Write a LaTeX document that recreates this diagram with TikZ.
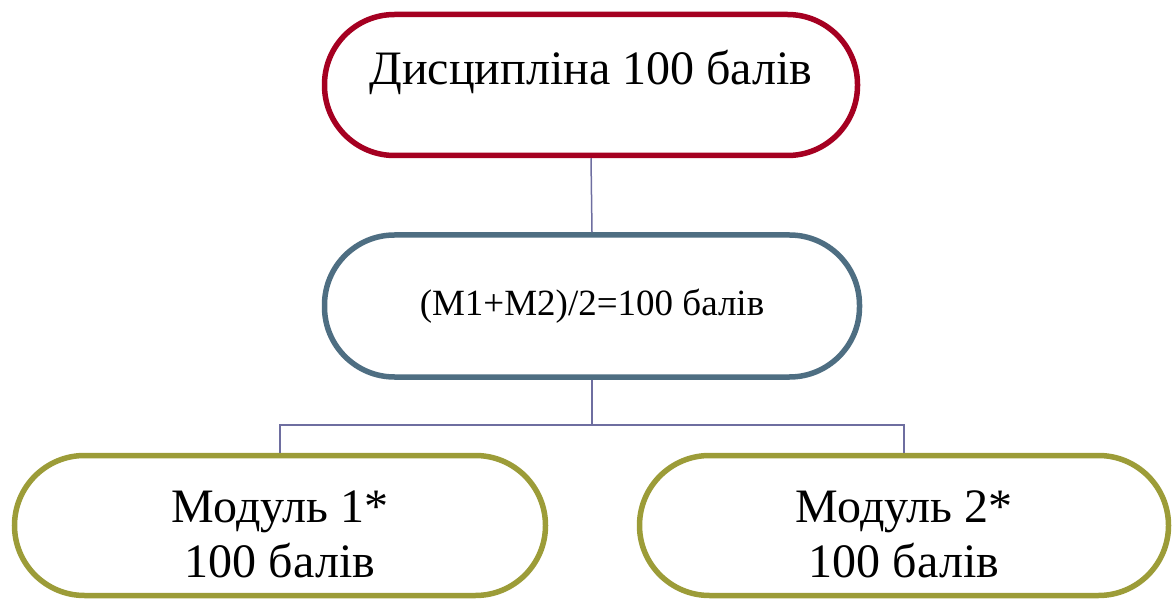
\documentclass[tikz,border=0pt]{standalone}
\usepackage{fontspec}
\setmainfont{Liberation Serif}
\definecolor{cred}{RGB}{165,0,33}
\definecolor{cblue}{RGB}{78,110,130}
\definecolor{colive}{RGB}{156,156,56}
\definecolor{cline}{RGB}{110,110,160}
\tikzset{
  pill/.style={draw, line width=5.5pt, fill=white, rounded corners=70pt, inner sep=0pt, align=center},
  conn/.style={draw=cline, line width=1.5pt},
}
\begin{document}
\begin{tikzpicture}[x=1pt,y=-1pt]
\useasboundingbox (0,0) rectangle (1172,601);
\node[pill, draw=cred, minimum width=533pt, minimum height=141pt, text height=31pt, text depth=31pt,
  font=\fontsize{48}{55}\selectfont] (top) at (591,85) {Дисципліна 100 балів};
\node[pill, draw=cblue, minimum width=535pt, minimum height=142pt,
  font=\fontsize{37}{44}\selectfont] (mid) at (592,306) {(M1+M2)/2=100 балів};
\node[pill, draw=colive, minimum width=531pt, minimum height=140pt, text height=103pt, text depth=0pt,
  font=\fontsize{48}{55}\selectfont] (m1) at (280,525.5) {Модуль 1*\\100 балів};
\node[pill, draw=colive, minimum width=529pt, minimum height=140pt, text height=103pt, text depth=0pt,
  font=\fontsize{48}{55}\selectfont] (m2) at (904,525.5) {Модуль 2*\\100 балів};
\coordinate (bus) at (592,425);
\draw[conn] (top.south) -- (mid.north);
\draw[conn] (mid.south) -- (bus);
\draw[conn] (m1.north) |- (bus) -| (m2.north);
\end{tikzpicture}
\end{document}
